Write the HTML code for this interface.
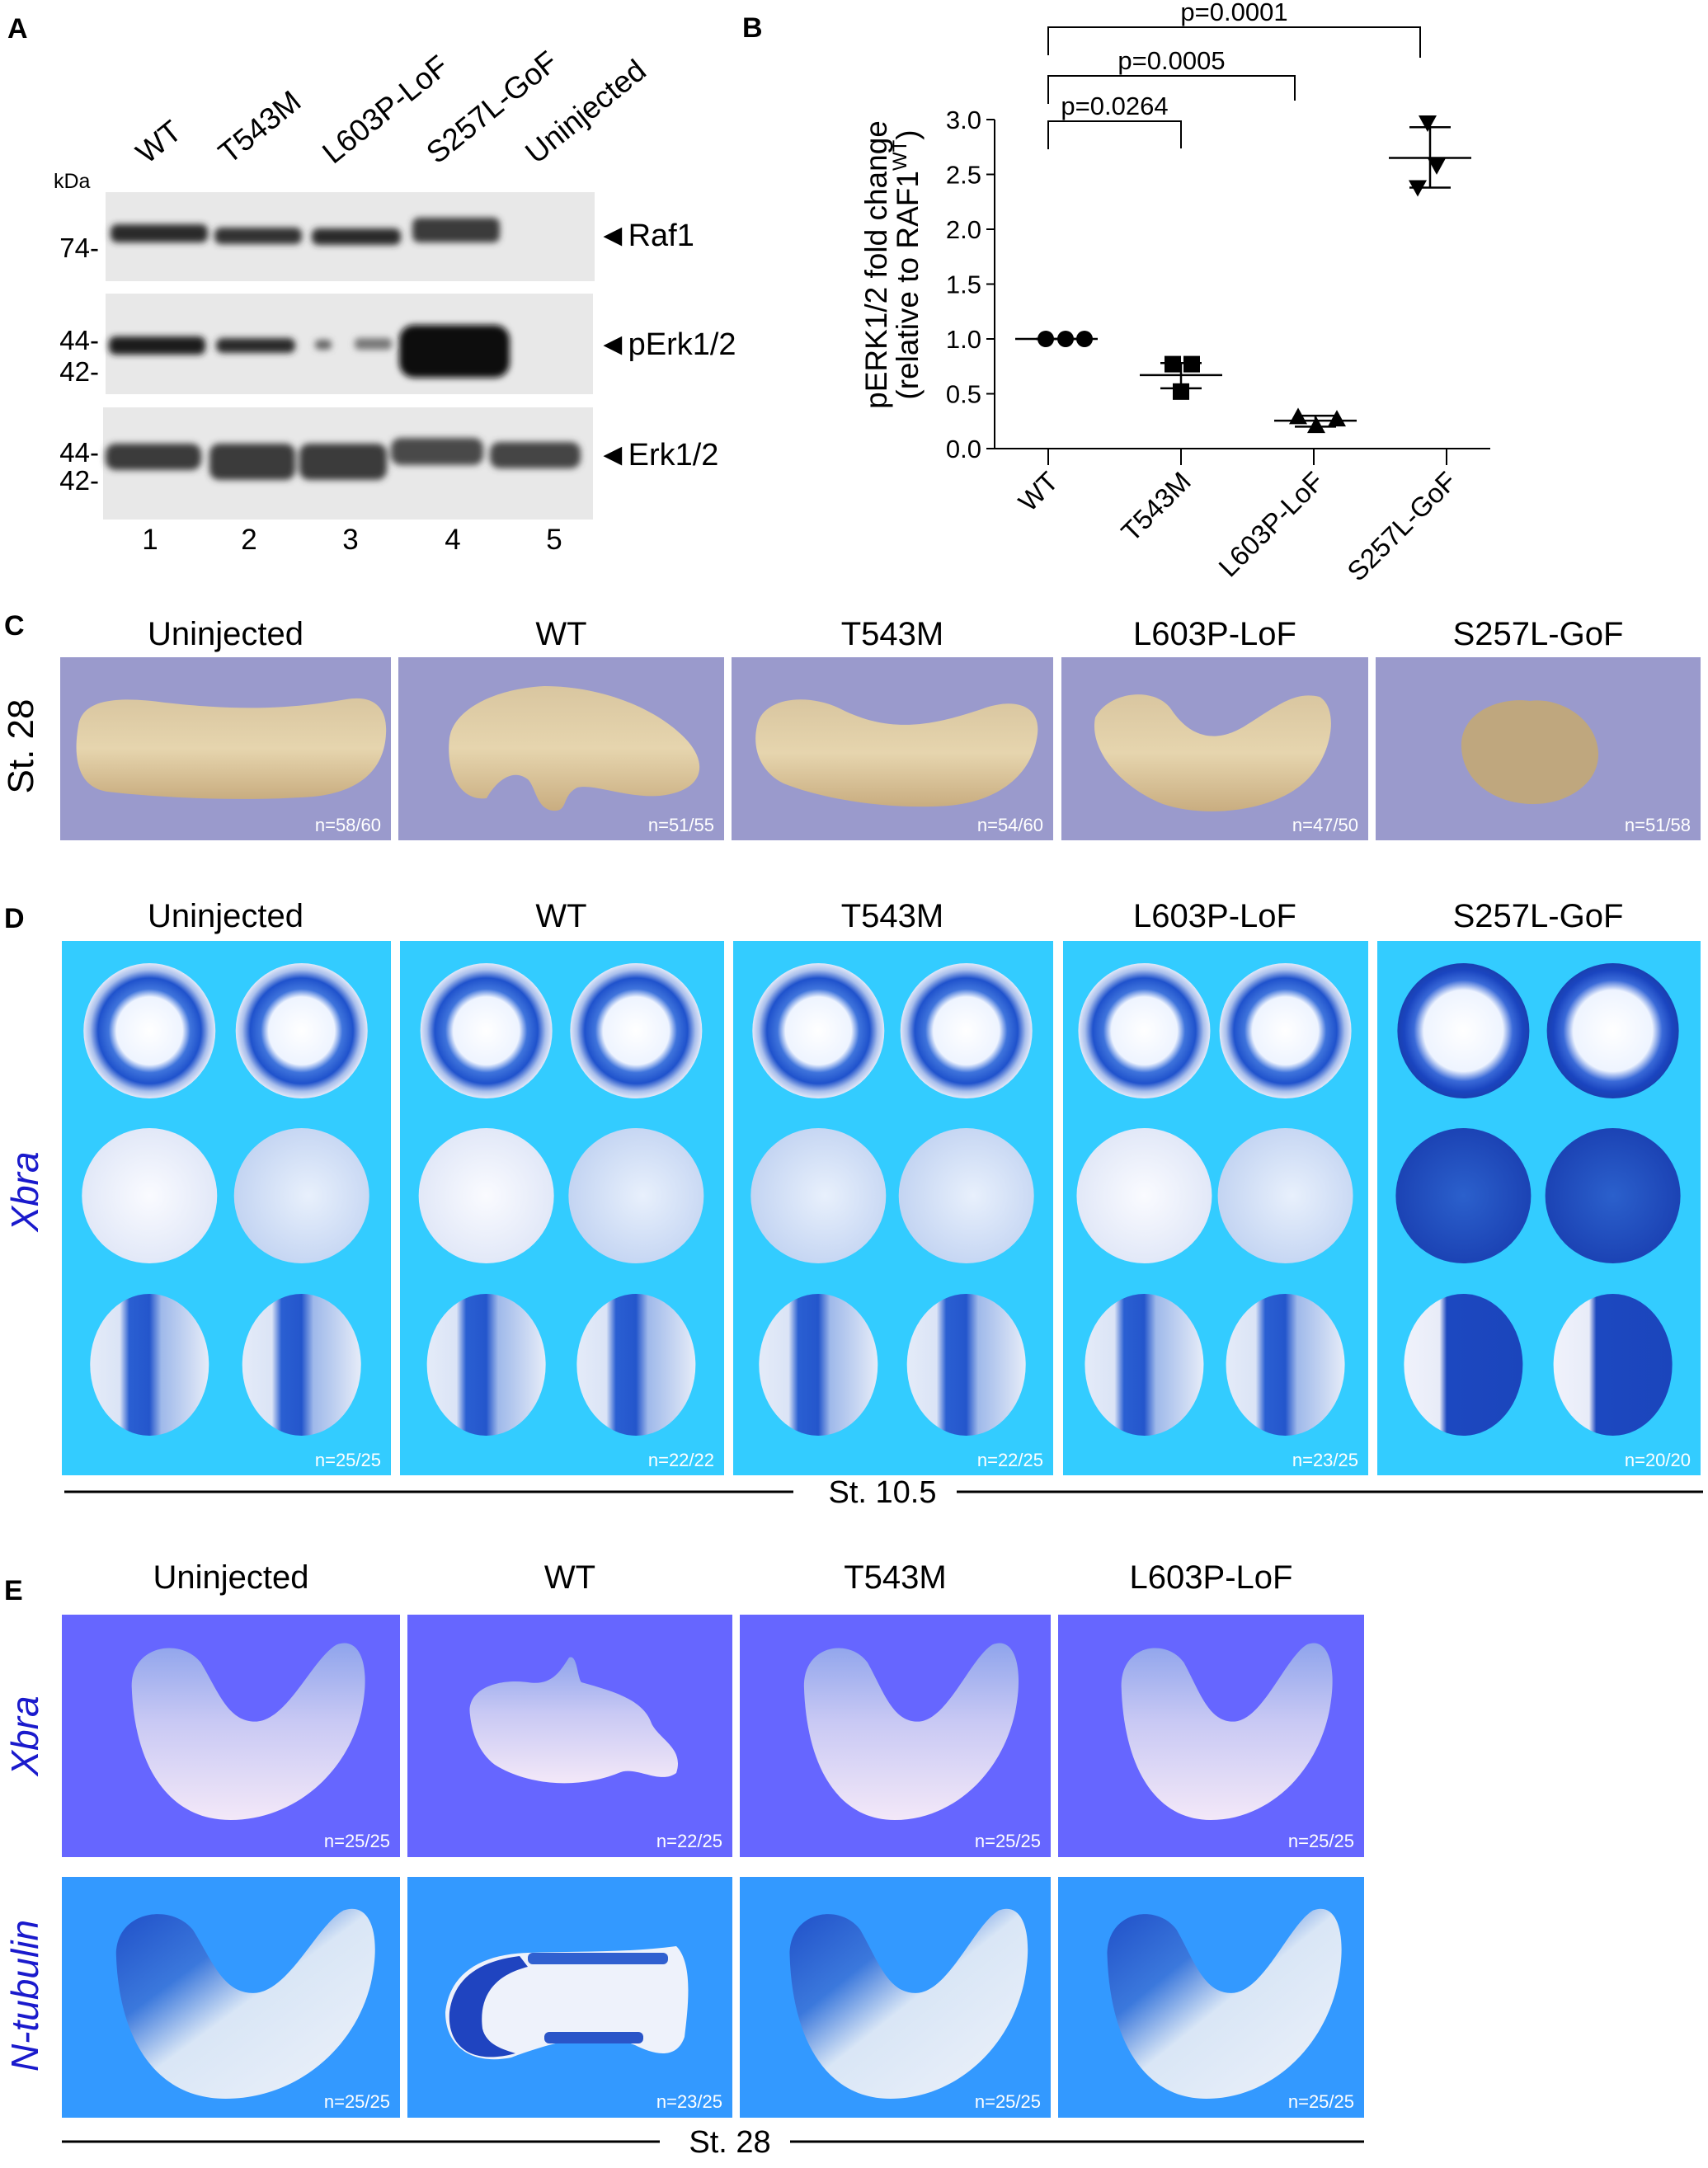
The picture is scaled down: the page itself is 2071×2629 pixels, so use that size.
<!DOCTYPE html>
<html><head><meta charset="utf-8">
<style>
html,body{margin:0;padding:0;background:#fff;}
svg{display:block;font-family:"Liberation Sans",Arial,sans-serif;}
</style></head>
<body>
<svg id="fig" width="2071" height="2629" viewBox="0 0 2071 2629" xmlns="http://www.w3.org/2000/svg">
<defs>
  <filter id="blur3" x="-20%" y="-50%" width="140%" height="200%"><feGaussianBlur stdDeviation="4"/></filter>
  <linearGradient id="tan" x1="0" y1="0" x2="0" y2="1">
    <stop offset="0" stop-color="#d9c6a0"/><stop offset="0.5" stop-color="#e6d5ae"/><stop offset="1" stop-color="#c9ad80"/>
  </linearGradient>
  <radialGradient id="ring" cx="0.5" cy="0.5" r="0.5">
    <stop offset="0" stop-color="#ffffff"/><stop offset="0.5" stop-color="#eef4ff"/>
    <stop offset="0.62" stop-color="#3f74dc"/><stop offset="0.78" stop-color="#1f52cc"/>
    <stop offset="0.9" stop-color="#a9bfec"/><stop offset="1" stop-color="#e2e8f8"/>
  </radialGradient>
  <radialGradient id="ringDark" cx="0.5" cy="0.5" r="0.5">
    <stop offset="0" stop-color="#ffffff"/><stop offset="0.6" stop-color="#eef4ff"/>
    <stop offset="0.75" stop-color="#3a6ad8"/><stop offset="0.9" stop-color="#1a45c0"/><stop offset="1" stop-color="#1a3fb0"/>
  </radialGradient>
  <radialGradient id="pale" cx="0.55" cy="0.5" r="0.55">
    <stop offset="0" stop-color="#e8f0fc"/><stop offset="1" stop-color="#c3d4f2"/>
  </radialGradient>
  <radialGradient id="palest" cx="0.5" cy="0.5" r="0.55">
    <stop offset="0" stop-color="#fafbff"/><stop offset="1" stop-color="#dfe6f7"/>
  </radialGradient>
  <radialGradient id="darkDisc" cx="0.5" cy="0.5" r="0.55">
    <stop offset="0" stop-color="#2b60cc"/><stop offset="1" stop-color="#1a40b2"/>
  </radialGradient>
  <linearGradient id="band" x1="0" y1="0" x2="1" y2="0">
    <stop offset="0" stop-color="#e4ebf8"/><stop offset="0.25" stop-color="#dbe4f6"/>
    <stop offset="0.33" stop-color="#2a5fd2"/><stop offset="0.5" stop-color="#2456cc"/>
    <stop offset="0.6" stop-color="#9fb9ea"/><stop offset="1" stop-color="#e6ecf8"/>
  </linearGradient>
  <linearGradient id="bandDark" x1="0" y1="0" x2="1" y2="0">
    <stop offset="0" stop-color="#f0f2fb"/><stop offset="0.3" stop-color="#e8ecf8"/>
    <stop offset="0.36" stop-color="#1c48c0"/><stop offset="1" stop-color="#1b45bc"/>
  </linearGradient>
  <linearGradient id="xbraE" x1="0" y1="0" x2="0" y2="1">
    <stop offset="0" stop-color="#8fa4ec"/><stop offset="0.45" stop-color="#c9c9f4"/><stop offset="1" stop-color="#f3e8f8"/>
  </linearGradient>
  <linearGradient id="ntubE" x1="0" y1="0" x2="1" y2="1">
    <stop offset="0" stop-color="#1f4fc8"/><stop offset="0.3" stop-color="#3b78dc"/><stop offset="0.5" stop-color="#d9e6f6"/><stop offset="1" stop-color="#eef2fa"/>
  </linearGradient>
  <path id="tad" d="M0.05,0.25 C0.05,0.02 0.25,-0.02 0.33,0.12 C0.40,0.28 0.44,0.45 0.55,0.45 C0.68,0.45 0.78,0.1 0.88,0.02 C0.98,-0.03 1.02,0.15 0.98,0.4 C0.92,0.75 0.7,1.0 0.45,1.0 C0.2,1.0 0.06,0.7 0.05,0.25 Z"/>
</defs>

<!-- ================= PANEL A ================= -->
<g>
  <text x="9" y="46" font-size="34" font-weight="bold">A</text>
  <g font-size="37">
    <text transform="translate(178,200) rotate(-39)">WT</text>
    <text transform="translate(278,200) rotate(-39)">T543M</text>
    <text transform="translate(404,200) rotate(-39)">L603P-LoF</text>
    <text transform="translate(530,200) rotate(-39)">S257L-GoF</text>
    <text transform="translate(650,200) rotate(-39)">Uninjected</text>
  </g>
  <text x="65" y="228" font-size="25">kDa</text>
  <g font-size="33" text-anchor="end">
    <text x="120" y="312">74-</text>
    <text x="120" y="424">44-</text>
    <text x="120" y="462">42-</text>
    <text x="120" y="560">44-</text>
    <text x="120" y="594">42-</text>
  </g>
  <g>
    <rect x="128" y="233" width="593" height="108" fill="#e8e8e8"/>
    <g filter="url(#blur3)" fill="#2a2a2a">
      <rect x="134" y="272" width="118" height="22" rx="8"/>
      <rect x="260" y="276" width="106" height="20" rx="8" fill="#333"/>
      <rect x="378" y="277" width="108" height="20" rx="8"/>
      <rect x="500" y="264" width="106" height="30" rx="8" fill="#3a3a3a"/>
    </g>
  </g>
  <g>
    <rect x="128" y="356" width="591" height="122" fill="#e8e8e8"/>
    <g filter="url(#blur3)" fill="#1e1e1e">
      <rect x="132" y="408" width="117" height="22" rx="8"/>
      <rect x="262" y="410" width="96" height="18" rx="8" fill="#2c2c2c"/>
      <rect x="382" y="412" width="20" height="12" rx="5" fill="#666"/>
      <rect x="430" y="410" width="45" height="14" rx="5" fill="#777"/>
      <rect x="484" y="394" width="134" height="64" rx="18" fill="#111"/>
    </g>
  </g>
  <g>
    <rect x="125" y="494" width="594" height="136" fill="#e8e8e8"/>
    <g filter="url(#blur3)" fill="#3a3a3a">
      <rect x="128" y="538" width="116" height="32" rx="12"/>
      <rect x="254" y="538" width="104" height="44" rx="12"/>
      <rect x="363" y="538" width="106" height="44" rx="12"/>
      <rect x="474" y="531" width="112" height="33" rx="12" fill="#4a4a4a"/>
      <rect x="594" y="536" width="110" height="32" rx="12" fill="#444"/>
    </g>
  </g>
  <g font-size="38">
    <text x="724" y="298">◄Raf1</text>
    <text x="724" y="430">◄pErk1/2</text>
    <text x="724" y="564">◄Erk1/2</text>
  </g>
  <g font-size="35" text-anchor="middle">
    <text x="182" y="666">1</text><text x="302" y="666">2</text><text x="425" y="666">3</text><text x="549" y="666">4</text><text x="672" y="666">5</text>
  </g>
</g>

<!-- ================= PANEL B ================= -->
<g id="chartB">
  <text x="900" y="45" font-size="34" font-weight="bold">B</text>
  <g font-size="37" text-anchor="middle">
    <text transform="translate(1075,321) rotate(-90)">pERK1/2 fold change</text>
    <text transform="translate(1113,321) rotate(-90)">(relative to RAF1<tspan font-size="24" dy="-14">WT</tspan><tspan dy="14">)</tspan></text>
  </g>
</g>

<g id="panels"></g>

<script>
// ---------- Chart B data ----------
const categories = ['WT', 'T543M', 'L603P-LoF', 'S257L-GoF'];
const rep1 = [1.00, 0.77, 0.29, 2.97];
const rep2 = [1.00, 0.77, 0.27, 2.58];
const rep3 = [1.00, 0.52, 0.21, 2.38];
const means = [1.00, 0.67, 0.255, 2.65];
const sdLow = [1.00, 0.55, 0.20, 2.38];
const sdHigh = [1.00, 0.78, 0.30, 2.93];
const yTicks = [0, 0.5, 1.0, 1.5, 2.0, 2.5, 3.0];
const pLabels = ['p=0.0264', 'p=0.0005', 'p=0.0001'];
const pTargets = [1, 2, 3];

const NS = 'http://www.w3.org/2000/svg';
function mk(tag, attrs, parent) {
  const e = document.createElementNS(NS, tag);
  for (const k in attrs) e.setAttribute(k, attrs[k]);
  parent.appendChild(e);
  return e;
}
const chart = document.getElementById('chartB');
const AX = 1206, Y0 = 544, PXV = 133;
const xAt = i => 1271 + i * 161;
const yAt = v => Y0 - v * PXV;

let ya = mk('line', {x1: AX, y1: yAt(3.0), x2: AX, y2: Y0, stroke: '#000', 'stroke-width': 2}, chart);


let xa = mk('line', {x1: AX, y1: Y0, x2: 1807, y2: Y0, stroke: '#000', 'stroke-width': 2}, chart);


yTicks.forEach(v => {
  mk('line', {x1: AX - 10, y1: yAt(v), x2: AX, y2: yAt(v), stroke: '#000', 'stroke-width': 2}, chart);
  const t = mk('text', {x: AX - 16, y: yAt(v) + 11, 'font-size': 31, 'text-anchor': 'end'}, chart);
  t.textContent = v.toFixed(1);
  
  
});
const shift = [10, 0, 2, -20];
const jit = [[-13, 11, 34], [-10, 13, 0], [-21, 26, 1], [-3, 8, -15]];
categories.forEach((c, i) => {
  const tx = xAt(i);
  mk('line', {x1: tx, y1: Y0, x2: tx, y2: Y0 + 20, stroke: '#000', 'stroke-width': 2}, chart);
  const lab = mk('text', {transform: `translate(${tx + 14},${Y0 + 42}) rotate(-45)`, 'font-size': 33, 'text-anchor': 'end'}, chart);
  lab.textContent = c;
  
  
  const cx = tx + shift[i];
  let ml = mk('line', {x1: cx - 50, y1: yAt(means[i]), x2: cx + 50, y2: yAt(means[i]), stroke: '#000', 'stroke-width': 2.5}, chart);
  
  
  mk('line', {x1: cx, y1: yAt(sdLow[i]), x2: cx, y2: yAt(sdHigh[i]), stroke: '#000', 'stroke-width': 2.5}, chart);
  mk('line', {x1: cx - 25, y1: yAt(sdLow[i]), x2: cx + 25, y2: yAt(sdLow[i]), stroke: '#000', 'stroke-width': 2.5}, chart);
  mk('line', {x1: cx - 25, y1: yAt(sdHigh[i]), x2: cx + 25, y2: yAt(sdHigh[i]), stroke: '#000', 'stroke-width': 2.5}, chart);
  [rep1[i], rep2[i], rep3[i]].forEach((v, r) => {
    const px = cx + jit[i][r], py = yAt(v);
    let m;
    if (i === 0) m = mk('circle', {cx: px, cy: py, r: 10, fill: '#000'}, chart);
    else if (i === 1) m = mk('rect', {x: px - 10, y: py - 10, width: 20, height: 20, fill: '#000'}, chart);
    else if (i === 2) m = mk('polygon', {points: `${px},${py - 11} ${px - 11},${py + 9} ${px + 11},${py + 9}`, fill: '#000'}, chart);
    else m = mk('polygon', {points: `${px},${py + 11} ${px - 11},${py - 9} ${px + 11},${py - 9}`, fill: '#000'}, chart);
    
    
  });
});
const brTop = [147, 92, 33];
const brDrop = [33, 30, 37];
const brEndAdj = [0, -23, -32];
pLabels.forEach((p, k) => {
  const x0 = xAt(0), x1 = xAt(pTargets[k]) + brEndAdj[k];
  const yb = brTop[k];
  const path = mk('path', {d: `M${x0},${yb + 34} V${yb} H${x1} V${yb + brDrop[k]}`, fill: 'none', stroke: '#000', 'stroke-width': 2}, chart);
  
  
  const t = mk('text', {x: (x0 + x1) / 2, y: yb - 8, 'font-size': 31, 'text-anchor': 'middle'}, chart);
  t.textContent = p;
  
  
});

// ---------- Panels C, D, E ----------
const P = document.getElementById('panels');
const condC = ['Uninjected', 'WT', 'T543M', 'L603P-LoF', 'S257L-GoF'];
const colsC = [[73, 474], [483, 878], [887, 1277], [1287, 1659], [1668, 2062]];
const nC = ['n=58/60', 'n=51/55', 'n=54/60', 'n=47/50', 'n=51/58'];
const nD = ['n=25/25', 'n=22/22', 'n=22/25', 'n=23/25', 'n=20/20'];
const colsE = [[75, 485], [494, 888], [897, 1274], [1283, 1654]];
const nE1 = ['n=25/25', 'n=22/25', 'n=25/25', 'n=25/25'];
const nE2 = ['n=25/25', 'n=23/25', 'n=25/25', 'n=25/25'];

function txt(x, y, s, attrs, name) {
  const t = mk('text', Object.assign({x: x, y: y}, attrs || {}), P);
  t.textContent = s;
  
  
  return t;
}
function label(ch, y) {
  txt(5, y, ch, {'font-size': 34, 'font-weight': 'bold'}, 'panel-' + ch.toLowerCase() + '-label');
}
function tadpole(x0, y0, x1, y1, fill) {
  const g = mk('g', {}, P);
  const sx = x1 - x0, sy = y1 - y0;
  mk('use', {href: '#tad', fill: fill, transform: `translate(${x0},${y0}) scale(${sx},${sy})`}, g);
  
  
  return g;
}

// Panel C
label('C', 770);
txt(25, 905, 'St. 28', {'font-size': 44, 'text-anchor': 'middle', transform: 'rotate(-90 25 905)', dy: 15}, 'stage-label-c');
colsC.forEach((c, i) => {
  txt((c[0] + c[1]) / 2, 782, condC[i], {'font-size': 40, 'text-anchor': 'middle'}, 'column-header-c');
  const r = mk('rect', {x: c[0], y: 797, width: c[1] - c[0], height: 222, fill: '#9a9acc'}, P);
  
  
  txt(c[1] - 12, 1008, nC[i], {'font-size': 22, fill: '#fff', 'text-anchor': 'end'}, 'n-count');
});
(function () {
  const paths = [
    'M95,880 C100,845 150,845 200,852 C290,862 350,860 420,848 C455,842 470,860 468,890 C466,930 440,960 380,966 C300,972 200,968 130,960 C95,955 88,920 95,880 Z',
    'M545,895 C550,860 600,835 660,832 C730,832 800,860 835,900 C860,930 850,960 800,965 C760,968 720,950 700,955 C680,965 690,985 670,983 C650,980 650,955 640,945 C620,930 600,950 590,968 C560,972 540,940 545,895 Z',
    'M918,880 C925,845 980,840 1020,860 C1080,890 1130,880 1190,860 C1230,845 1262,855 1258,890 C1252,940 1210,972 1150,977 C1080,982 1000,970 950,950 C920,935 912,905 918,880 Z',
    'M1328,870 C1345,838 1400,832 1420,860 C1440,890 1470,905 1510,880 C1550,855 1570,838 1600,845 C1625,860 1615,920 1580,950 C1540,985 1460,992 1410,975 C1360,955 1320,910 1328,870 Z'
  ];
  paths.forEach(d => {
    const e = mk('path', {d: d, fill: 'url(#tan)'}, P);
    
    
  });
  const e = mk('path', {d: 'M1772,900 C1775,862 1820,845 1855,850 C1890,845 1935,870 1938,912 C1940,950 1900,975 1860,975 C1810,975 1770,945 1772,900 Z', fill: '#bfa77e'}, P);
  
  
})();

// Panel D
label('D', 1125);
txt(30, 1445, 'Xbra', {'font-size': 46, 'font-style': 'italic', fill: '#1a1acc', 'text-anchor': 'middle', transform: 'rotate(-90 30 1445)', dy: 16}, 'gene-label-xbra-d');
const rowY = [1250, 1450, 1655];
colsC.forEach((c, i) => {
  txt((c[0] + c[1]) / 2, 1124, condC[i], {'font-size': 40, 'text-anchor': 'middle'}, 'column-header-d');
  const r = mk('rect', {x: c[0] + 2, y: 1141, width: c[1] - c[0] - 2, height: 648, fill: '#33ccff'}, P);
  
  
  const w = c[1] - c[0];
  const xs = [c[0] + w * 0.27, c[0] + w * 0.73];
  const gof = i === 4;
  xs.forEach((x, k) => {
    let e = mk('ellipse', {cx: x, cy: rowY[0], rx: 80, ry: 82, fill: gof ? 'url(#ringDark)' : 'url(#ring)'}, P);
    
    
    const paleFill = gof ? 'url(#darkDisc)' : ((i === 3 && k === 0) || (i === 0 && k === 0) || (i === 1 && k === 0)) ? 'url(#palest)' : 'url(#pale)';
    e = mk('ellipse', {cx: x, cy: rowY[1], rx: 82, ry: 82, fill: paleFill}, P);
    
    
    e = mk('ellipse', {cx: x, cy: rowY[2], rx: 72, ry: 86, fill: gof ? 'url(#bandDark)' : 'url(#band)'}, P);
    
    
  });
  txt(c[1] - 12, 1778, nD[i], {'font-size': 22, fill: '#fff', 'text-anchor': 'end'}, 'n-count');
});
let l1 = mk('line', {x1: 78, y1: 1809, x2: 962, y2: 1809, stroke: '#000', 'stroke-width': 3}, P);


let l2 = mk('line', {x1: 1160, y1: 1809, x2: 2065, y2: 1809, stroke: '#000', 'stroke-width': 3}, P);


txt(1070, 1822, 'St. 10.5', {'font-size': 38, 'text-anchor': 'middle'}, 'stage-label-d');

// Panel E
label('E', 1940);
txt(30, 2105, 'Xbra', {'font-size': 46, 'font-style': 'italic', fill: '#1a1acc', 'text-anchor': 'middle', transform: 'rotate(-90 30 2105)', dy: 16}, 'gene-label-xbra-e');
txt(30, 2420, 'N-tubulin', {'font-size': 46, 'font-style': 'italic', fill: '#1a1acc', 'text-anchor': 'middle', transform: 'rotate(-90 30 2420)', dy: 16}, 'gene-label-ntubulin');
colsE.forEach((c, i) => {
  txt((c[0] + c[1]) / 2, 1926, condC[i], {'font-size': 40, 'text-anchor': 'middle'}, 'column-header-e');
  let r = mk('rect', {x: c[0], y: 1958, width: c[1] - c[0], height: 294, fill: '#6666ff'}, P);
  
  
  r = mk('rect', {x: c[0], y: 2276, width: c[1] - c[0], height: 292, fill: '#3399ff'}, P);
  
  
  txt(c[1] - 12, 2240, nE1[i], {'font-size': 22, fill: '#fff', 'text-anchor': 'end'}, 'n-count');
  txt(c[1] - 12, 2556, nE2[i], {'font-size': 22, fill: '#fff', 'text-anchor': 'end'}, 'n-count');
  const w = c[1] - c[0];
  if (i === 1) {
    let e = mk('path', {d: 'M570,2080 C565,2050 600,2035 640,2040 C670,2045 680,2025 690,2010 C700,2005 700,2035 705,2040 C740,2050 780,2060 790,2090 C800,2110 830,2120 820,2150 C800,2165 770,2140 750,2150 C700,2170 640,2165 600,2140 C580,2125 572,2100 570,2080 Z', fill: 'url(#xbraE)'}, P);
    
    
    e = mk('path', {d: 'M540,2440 C545,2395 580,2370 640,2368 C700,2366 760,2368 820,2360 C840,2380 835,2430 830,2470 C820,2500 790,2490 770,2480 C720,2460 660,2480 620,2495 C570,2505 540,2480 540,2440 Z', fill: '#eef2fb'}, P);
    
    
    e = mk('path', {d: 'M545,2440 C550,2400 580,2378 630,2372 L640,2385 C600,2395 580,2420 585,2460 C590,2480 610,2485 625,2490 C570,2505 542,2480 545,2440 Z', fill: '#1f44c0'}, P);
    
    
    mk('rect', {x: 640, y: 2368, width: 170, height: 14, fill: '#3060d0', rx: 6}, P);
    mk('rect', {x: 660, y: 2464, width: 120, height: 14, fill: '#2a55c8', rx: 6}, P);
  } else {
    tadpole(c[0] + w * 0.17, 1990, c[0] + w * 0.9, 2207, 'url(#xbraE)');
    tadpole(c[0] + w * 0.12, 2312, c[0] + w * 0.93, 2545, 'url(#ntubE)');
  }
});
let l3 = mk('line', {x1: 75, y1: 2597, x2: 800, y2: 2597, stroke: '#000', 'stroke-width': 3}, P);


let l4 = mk('line', {x1: 958, y1: 2597, x2: 1654, y2: 2597, stroke: '#000', 'stroke-width': 3}, P);


txt(885, 2610, 'St. 28', {'font-size': 38, 'text-anchor': 'middle'}, 'stage-label-e');
</script>
</svg>
</body></html>
